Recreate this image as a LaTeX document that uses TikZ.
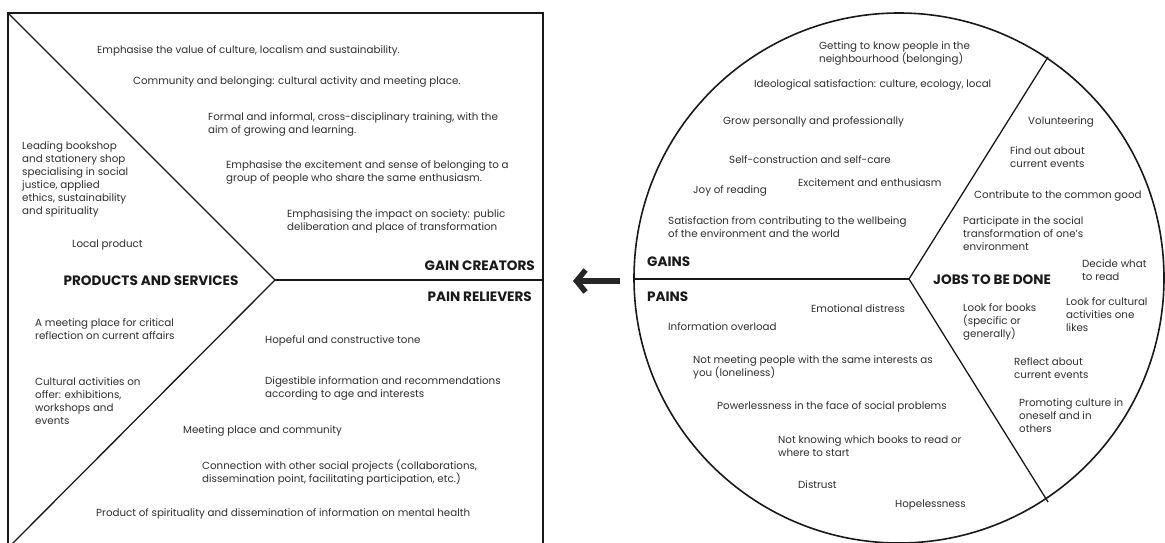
\documentclass[tikz,border=0pt]{standalone}
\usepackage{fontspec}
\setmainfont{Poppins}
\usetikzlibrary{arrows.meta}
\begin{document}
\begin{tikzpicture}[x=1pt, y=-1pt,
  txt/.style={anchor=west, align=left, inner sep=0pt, text=black!82, font=\fontsize{10.3}{13}\selectfont},
  head/.style={inner sep=0pt, text=black!90, font=\fontsize{13.6}{14}\selectfont\bfseries}]
\useasboundingbox (0,0) rectangle (1165,543);
\clip (0,0) rectangle (1165,543);
% value map frame
\coordinate (sqtl) at (8,13);
\coordinate (sqbl) at (8,548);
\coordinate (sqv) at (275,280);
\coordinate (sqr) at (543,280);
\draw[line width=2.2pt, black!90] (8,13) rectangle (543,548);
\draw[line width=1.3pt, black!90] (sqtl) -- (sqv) -- (sqbl);
\draw[line width=1.3pt, black!90] (sqv) -- (sqr);
% customer profile circle
\coordinate (cc) at (899,278);
\coordinate (cl) at (634,279);
\coordinate (cv) at (909,279);
\coordinate (cup) at (1048,57);
\coordinate (cdn) at (1048,502);
\draw[line width=1.6pt, black!90] (cc) circle[radius=265];
\draw[line width=1.3pt, black!90] (cl) -- (cv);
\draw[line width=1.3pt, black!90] (cup) -- (cv) -- (cdn);
% fit arrow
\coordinate (arrS) at (620,281);
\coordinate (arrE) at (573,281);
\draw[line width=5.5pt, black!85, -{Straight Barb[length=9pt, width=22pt]}] (arrS) -- (arrE);

% gain creators
\node[head, anchor=east] (gc) at (535,266) {GAIN CREATORS};
\node[txt] (g1) at (97,51) {Emphasise the value of culture, localism and sustainability.};
\node[txt] (g2) at (133,82) {Community and belonging: cultural activity and meeting place.};
\node[txt] (g3) at (208,124) {Formal and informal, cross-disciplinary training, with the\\aim of growing and learning.};
\node[txt] (g4) at (226,172.5) {Emphasise the excitement and sense of belonging to a\\group of people who share the same enthusiasm.};
\node[txt] (g5) at (287,221.5) {Emphasising the impact on society: public\\deliberation and place of transformation};

% products and services
\node[head] (ps) at (151,281) {PRODUCTS AND SERVICES};
\node[txt] (p1) at (22,179.5) {Leading bookshop\\and stationery shop\\specialising in social\\justice, applied\\ethics, sustainability\\and spirituality};
\node[txt] (p2) at (72,245) {Local product};
\node[txt] (p3) at (35,329) {A meeting place for critical\\reflection on current affairs};
\node[txt] (p4) at (35,401) {Cultural activities on\\offer: exhibitions,\\workshops and\\events};

% pain relievers
\node[head, anchor=east] (pr) at (532,297) {PAIN RELIEVERS};
\node[txt] (r1) at (265,341) {Hopeful and constructive tone};
\node[txt] (r2) at (265,388.5) {Digestible information and recommendations\\according to age and interests};
\node[txt] (r3) at (183,431) {Meeting place and community};
\node[txt] (r4) at (202,472.5) {Connection with other social projects (collaborations,\\dissemination point, facilitating participation, etc.)};
\node[txt] (r5) at (96,514) {Product of spirituality and dissemination of information on mental health};

% gains
\node[head, anchor=west] (gn) at (647,262) {GAINS};
\node[txt] (a1) at (819,53.5) {Getting to know people in the\\neighbourhood (belonging)};
\node[txt] (a2) at (754,85) {Ideological satisfaction: culture, ecology, local};
\node[txt] (a3) at (723,122) {Grow personally and professionally};
\node[txt] (a4) at (729,160) {Self-construction and self-care};
\node[txt] (a5) at (798,183) {Excitement and enthusiasm};
\node[txt] (a6) at (693,191) {Joy of reading};
\node[txt] (a7) at (668,227.5) {Satisfaction from contributing to the wellbeing\\of the environment and the world};

% pains
\node[head, anchor=west] (pn) at (647,297) {PAINS};
\node[txt] (b1) at (811,309) {Emotional distress};
\node[txt] (b2) at (668,327) {Information overload};
\node[txt] (b3) at (693,367.5) {Not meeting people with the same interests as\\you (loneliness)};
\node[txt] (b4) at (717,407) {Powerlessness in the face of social problems};
\node[txt] (b5) at (778,446.5) {Not knowing which books to read or\\where to start};
\node[txt] (b6) at (798,485) {Distrust};
\node[txt] (b7) at (895,505) {Hopelessness};

% jobs to be done
\node[head, anchor=west] (jb) at (933,280) {JOBS TO BE DONE};
\node[txt] (j1) at (1028,122) {Volunteering};
\node[txt] (j2) at (1010,157.5) {Find out about\\current events};
\node[txt] (j3) at (974,196) {Contribute to the common good};
\node[txt] (j4) at (963,234) {Participate in the social\\transformation of one's\\environment};
\node[txt] (j5) at (1082,270.5) {Decide what\\to read};
\node[txt] (j6) at (963,322) {Look for books\\(specific or\\generally)};
\node[txt] (j7) at (1066,315) {Look for cultural\\activities one\\likes};
\node[txt] (j8) at (1014,368.5) {Reflect about\\current events};
\node[txt] (j9) at (1019,416) {Promoting culture in\\oneself and in\\others};
\end{tikzpicture}
\end{document}
